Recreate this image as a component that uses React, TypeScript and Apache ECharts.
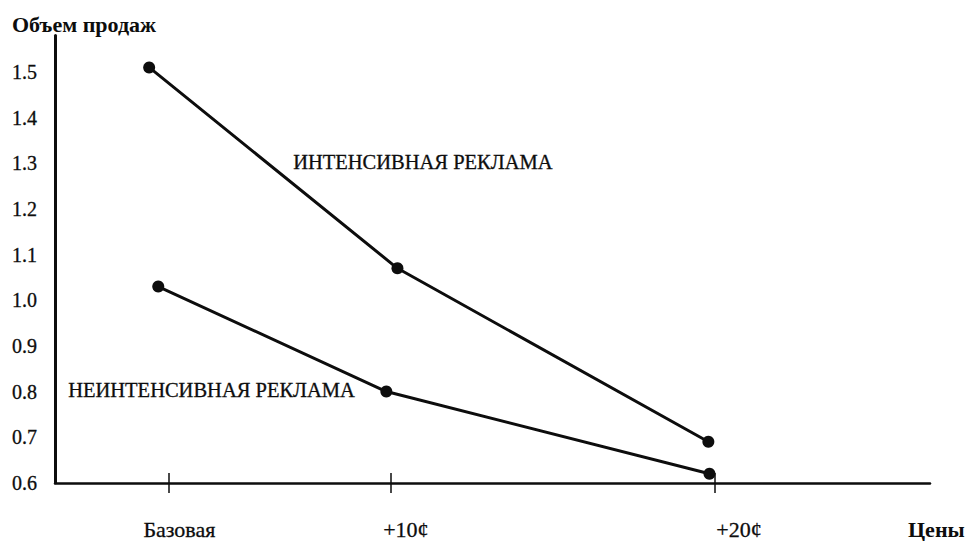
import React, { useEffect, useRef } from "react";
import * as echarts from "echarts";

// Price levels along the (not-to-scale) horizontal axis
const priceLabels = ["Базовая", "+10¢", "+20¢"];
const priceTickPos = [0, 10, 24.6];
const priceLabelPos = [0.5, 10.7, 25.7];

// Sales volume
const volumeTicks = [0.6, 0.7, 0.8, 0.9, 1.0, 1.1, 1.2, 1.3, 1.4, 1.5];

const intensiveX = [-0.86, 10.32, 24.32];
const intensiveY = [1.51, 1.07, 0.69];
const weakX = [-0.45, 9.82, 24.37];
const weakY = [1.03, 0.8, 0.62];

const seriesNames = ["ИНТЕНСИВНАЯ РЕКЛАМА", "НЕИНТЕНСИВНАЯ РЕКЛАМА"];
const yTitle = "Объем продаж";
const xTitle = "Цены";

const FONT = "'Liberation Serif', 'DejaVu Serif', serif";
const INK = "#0d0d0d";

export default function App() {
  const ref = useRef<HTMLDivElement>(null);
  useEffect(() => {
    if (!ref.current) return;
    const chart = echarts.init(ref.current, undefined, { renderer: "svg" });
    const toPairs = (xs: number[], ys: number[]) => xs.map((x, i) => [x, ys[i]]);
    const gridTop = 35.5;
    const gridBottom = 58;
    const gridHeight = 541 - gridTop - gridBottom;
    const option = {
      animation: false,
      backgroundColor: "#ffffff",
      grid: { left: 55, right: 36, top: gridTop, bottom: gridBottom, containLabel: false },
      xAxis: [
        {
          type: "value",
          min: -5.1,
          max: 34.3,
          position: "bottom",
          splitLine: { show: false },
          axisLine: { show: true, onZero: false, lineStyle: { color: INK, width: 2.5 } },
          axisTick: { show: false },
          axisLabel: {
            show: true,
            customValues: priceLabelPos,
            margin: 36,
            fontFamily: FONT,
            fontSize: 22,
            color: INK,
            textBorderColor: INK,
            textBorderWidth: 0.3,
            formatter: (v: number) => {
              let best = 0;
              priceLabelPos.forEach((p, i) => {
                if (Math.abs(p - v) < Math.abs(priceLabelPos[best] - v)) best = i;
              });
              return priceLabels[best];
            },
          },
        },
        {
          // carries the tick marks that cross the axis line
          type: "value",
          min: -5.1,
          max: 34.3,
          position: "top",
          offset: -(gridHeight + 10),
          splitLine: { show: false },
          axisLine: { show: false, onZero: false },
          axisLabel: { show: false },
          axisTick: {
            show: true,
            inside: false,
            customValues: priceTickPos,
            length: 20,
            lineStyle: { color: INK, width: 1.5 },
          },
        },
      ],
      yAxis: {
        type: "value",
        min: 0.6,
        max: 1.58,
        splitLine: { show: false },
        axisLine: { show: true, onZero: false, lineStyle: { color: INK, width: 3 } },
        axisTick: { show: false },
        axisLabel: {
          customValues: volumeTicks,
          margin: 18,
          fontFamily: FONT,
          fontSize: 20,
          color: INK,
          textBorderColor: INK,
          textBorderWidth: 0.3,
          formatter: (v: number) => v.toFixed(1),
        },
      },
      graphic: [
        {
          type: "text",
          left: 12,
          top: 13,
          style: { text: yTitle, font: `bold 22px ${FONT}`, fill: INK },
        },
        {
          type: "text",
          left: 908,
          top: 518,
          style: { text: xTitle, font: `bold 22px ${FONT}`, fill: INK },
        },
        {
          type: "text",
          left: 293,
          top: 151,
          style: {
            text: seriesNames[0],
            font: `20.5px ${FONT}`,
            fill: INK,
            stroke: INK,
            lineWidth: 0.3,
          },
        },
        {
          type: "text",
          left: 68,
          top: 379,
          style: {
            text: seriesNames[1],
            font: `20.5px ${FONT}`,
            fill: INK,
            stroke: INK,
            lineWidth: 0.3,
          },
        },
      ],
      series: [
        {
          name: seriesNames[0],
          type: "line",
          xAxisIndex: 0,
          data: toPairs(intensiveX, intensiveY),
          symbol: "circle",
          symbolSize: 12,
          itemStyle: { color: INK },
          lineStyle: { color: INK, width: 3 },
        },
        {
          name: seriesNames[1],
          type: "line",
          xAxisIndex: 0,
          data: toPairs(weakX, weakY),
          symbol: "circle",
          symbolSize: 12,
          itemStyle: { color: INK },
          lineStyle: { color: INK, width: 3 },
        },
      ],
    };
    chart.setOption(option as any);
    return () => chart.dispose();
  }, []);
  return (
    <div
      ref={ref}
      style={{ position: "fixed", left: 0, top: 0, width: 966, height: 541, background: "#fff" }}
    />
  );
}
